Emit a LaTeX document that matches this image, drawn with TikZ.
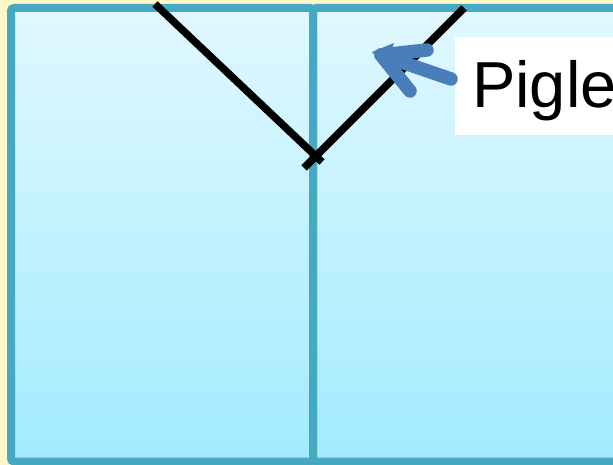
\documentclass[tikz,border=0pt]{standalone}
\usepackage{fontspec}
\setmainfont{Liberation Sans}
\begin{document}
\begin{tikzpicture}[x=1pt,y=-1pt,
  panel/.style={draw=bordc,line width=8pt,rounded corners=3pt,top color=skytop,bottom color=skybot},
  vline/.style={draw=black,line width=7.5pt},
  arr/.style={draw=arrc,line width=13.5pt,line cap=round,line join=round}]
\definecolor{bordc}{RGB}{69,169,196}
\definecolor{skytop}{RGB}{225,248,255}
\definecolor{skybot}{RGB}{162,235,255}
\definecolor{bgy}{RGB}{255,248,198}
\definecolor{arrc}{RGB}{74,126,187}
\useasboundingbox (0,0) rectangle (613,465);
\clip (0,0) rectangle (613,465);
\fill[bgy] (0,0) rectangle (613,465);
% panels
\path[panel] (313,8) rectangle (617,461.5);
\path[panel] (11,8) rectangle (313,461.5);
% V lines
\coordinate (la) at (155,4);
\coordinate (lb) at (322,162);
\coordinate (ra) at (304,168);
\coordinate (rb) at (464,8);
\draw[vline] (la) -- (lb);
\draw[vline] (ra) -- (rb);
% label box
\node[fill=white,minimum width=190pt,minimum height=98pt,anchor=north west,inner sep=0pt] (box) at (455,37) {};
\node[anchor=base west,inner sep=0pt,font=\fontsize{65}{72}\selectfont] (lbl) at (472,108) {Pigle};
% arrow
\coordinate (tail) at (451,79);
\coordinate (tip) at (381,55);
\coordinate (b1) at (427,50);
\coordinate (b2) at (410,91);
\draw[arr] (tail) -- (tip);
\draw[arr] (b1) -- (tip) -- (b2);
\fill[arrc] (372,52) -- (394,43) -- (386,68) -- cycle;
\end{tikzpicture}
\end{document}
